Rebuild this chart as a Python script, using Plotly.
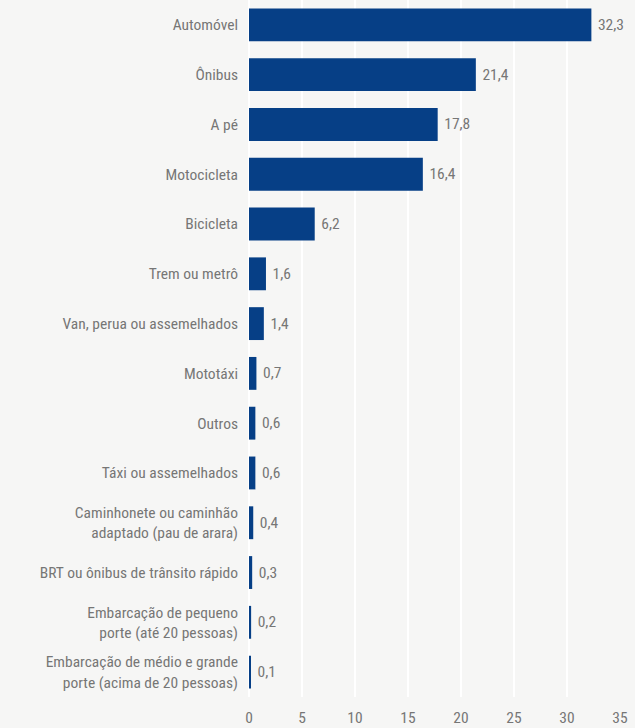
import plotly.graph_objects as go

categories = [
    "Automóvel",
    "Ônibus",
    "A pé",
    "Motocicleta",
    "Bicicleta",
    "Trem ou metrô",
    "Van, perua ou assemelhados",
    "Mototáxi",
    "Outros",
    "Táxi ou assemelhados",
    "Caminhonete ou caminhão<br>adaptado (pau de arara)",
    "BRT ou ônibus de trânsito rápido",
    "Embarcação de pequeno<br>porte (até 20 pessoas)",
    "Embarcação de médio e grande<br>porte (acima de 20 pessoas)",
]
values = [32.3, 21.4, 17.8, 16.4, 6.2, 1.6, 1.4, 0.7, 0.6, 0.6, 0.4, 0.3, 0.2, 0.1]
x_ticks = [0, 5, 10, 15, 20, 25, 30, 35]

labels = ["\u00a0" + f"{v:.1f}".replace(".", ",") for v in values]

FONT = "Liberation Sans Narrow, Roboto Condensed, DejaVu Sans Condensed, Arial Narrow, sans-serif"
GRAY = "#767676"
SIZE = 15.5

fig = go.Figure(
    go.Bar(
        x=values,
        y=categories,
        orientation="h",
        marker=dict(color="#063f86", line=dict(width=0)),
        text=labels,
        textposition="outside",
        textfont=dict(family=FONT, size=SIZE, color=GRAY),
        cliponaxis=False,
    )
)

fig.update_layout(
    width=635,
    height=728,
    margin=dict(l=249, r=15, t=0, b=31, autoexpand=False),
    paper_bgcolor="#f6f6f5",
    plot_bgcolor="#f6f6f5",
    bargap=0.34,
    showlegend=False,
    font=dict(family=FONT, size=SIZE, color=GRAY),
    separators=",.",
)
fig.update_xaxes(
    range=[0, 35],
    tickvals=x_ticks,
    showgrid=True,
    gridcolor="#ffffff",
    gridwidth=2,
    zeroline=True,
    zerolinecolor="#ffffff",
    zerolinewidth=2,
    showline=False,
    ticks="",
    automargin=False,
    ticklabelstandoff=9,
    tickfont=dict(family=FONT, size=SIZE, color=GRAY),
    fixedrange=True,
)
fig.update_yaxes(
    categoryorder="array",
    categoryarray=categories[::-1],
    autorange=True,
    showgrid=False,
    showline=False,
    ticks="",
    automargin=False,
    ticklabelstandoff=10,
    tickfont=dict(family=FONT, size=SIZE, color=GRAY),
    fixedrange=True,
)

fig.write_html(
    "out.html",
    config={"displayModeBar": False},
    post_script="document.body.style.margin='0';document.body.style.background='#f6f6f5';",
)
